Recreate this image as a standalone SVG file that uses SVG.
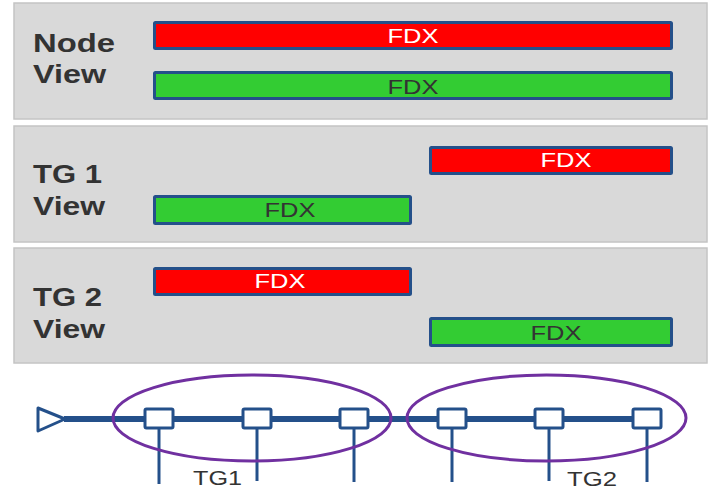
<svg xmlns="http://www.w3.org/2000/svg" width="709" height="489" viewBox="0 0 709 489">
<style>
.panel{fill:#d9d9d9;stroke:#c4c4c4;stroke-width:1.5}
.bar{stroke:#24508a;stroke-width:3}
.red{fill:#ff0000}
.green{fill:#33cc33}
.lbl{font-family:"Liberation Sans",Arial,sans-serif;font-weight:bold;font-size:26px;fill:#333333}
.fdx{font-family:"Liberation Sans",Arial,sans-serif;font-size:21px;text-anchor:middle}
.w{fill:#ffffff}
.d{fill:#333333}
.bus{stroke:#24508a;fill:none}
.node{fill:#ffffff;stroke:#24508a;stroke-width:3}
.tg{fill:none;stroke:#7030a0;stroke-width:3}
.tl{font-family:"Liberation Sans",Arial,sans-serif;font-size:21px;fill:#333333}
</style>
<g id="panel-node">
<rect class="panel" x="14" y="3" width="693" height="116"/>
<text class="lbl" x="33" y="52" textLength="82" lengthAdjust="spacingAndGlyphs">Node</text>
<text class="lbl" x="33" y="83" textLength="73" lengthAdjust="spacingAndGlyphs">View</text>
<rect class="bar red" x="154.5" y="22.5" width="517" height="26" rx="1"/>
<text class="fdx w" x="413" y="43" textLength="51" lengthAdjust="spacingAndGlyphs">FDX</text>
<rect class="bar green" x="154.5" y="72.5" width="517" height="26" rx="1"/>
<text class="fdx d" x="413" y="94" textLength="51" lengthAdjust="spacingAndGlyphs">FDX</text>
</g>
<g id="panel-tg1">
<rect class="panel" x="14" y="126" width="693" height="116"/>
<text class="lbl" x="33" y="183" textLength="69" lengthAdjust="spacingAndGlyphs">TG 1</text>
<text class="lbl" x="33" y="215" textLength="72" lengthAdjust="spacingAndGlyphs">View</text>
<rect class="bar red" x="430.5" y="147.5" width="241" height="26" rx="1"/>
<text class="fdx w" x="566" y="167" textLength="51" lengthAdjust="spacingAndGlyphs">FDX</text>
<rect class="bar green" x="154.5" y="196.5" width="256" height="27" rx="1"/>
<text class="fdx d" x="290" y="217" textLength="51" lengthAdjust="spacingAndGlyphs">FDX</text>
</g>
<g id="panel-tg2">
<rect class="panel" x="14" y="248" width="693" height="115"/>
<text class="lbl" x="33" y="306" textLength="69" lengthAdjust="spacingAndGlyphs">TG 2</text>
<text class="lbl" x="33" y="338" textLength="72" lengthAdjust="spacingAndGlyphs">View</text>
<rect class="bar red" x="154.5" y="268.5" width="256" height="26" rx="1"/>
<text class="fdx w" x="280" y="288" textLength="51" lengthAdjust="spacingAndGlyphs">FDX</text>
<rect class="bar green" x="430.5" y="318.5" width="241" height="27" rx="1"/>
<text class="fdx d" x="556" y="340" textLength="51" lengthAdjust="spacingAndGlyphs">FDX</text>
</g>
<g id="connectors">
<line class="bus" x1="64" y1="419" x2="647" y2="419" stroke-width="6"/>
<line class="bus" x1="159" y1="419" x2="159" y2="484" stroke-width="3"/>
<line class="bus" x1="257" y1="419" x2="257" y2="481" stroke-width="3"/>
<line class="bus" x1="354" y1="419" x2="354" y2="482" stroke-width="3"/>
<line class="bus" x1="452" y1="419" x2="452" y2="482" stroke-width="3"/>
<line class="bus" x1="549" y1="419" x2="549" y2="481" stroke-width="3"/>
<line class="bus" x1="647" y1="419" x2="647" y2="482" stroke-width="3"/>
</g>
<g id="source">
<polygon points="38,408 65,419 38,431" fill="#ffffff" stroke="#24508a" stroke-width="3" stroke-linejoin="round"/>
</g>
<g id="stations">
<rect class="node" x="145" y="409" width="28" height="19" rx="1.5"/>
<rect class="node" x="243" y="409" width="28" height="19" rx="1.5"/>
<rect class="node" x="340" y="409" width="28" height="19" rx="1.5"/>
<rect class="node" x="438" y="409" width="28" height="19" rx="1.5"/>
<rect class="node" x="535" y="409" width="28" height="19" rx="1.5"/>
<rect class="node" x="633" y="409" width="28" height="19" rx="1.5"/>
</g>
<g id="tg1">
<ellipse class="tg" cx="252" cy="418" rx="139" ry="43"/>
<text class="tl" x="193" y="485" textLength="49" lengthAdjust="spacingAndGlyphs">TG1</text>
</g>
<g id="tg2">
<ellipse class="tg" cx="546.5" cy="418" rx="139.5" ry="43"/>
<text class="tl" x="567" y="486" textLength="50" lengthAdjust="spacingAndGlyphs">TG2</text>
</g>
</svg>
